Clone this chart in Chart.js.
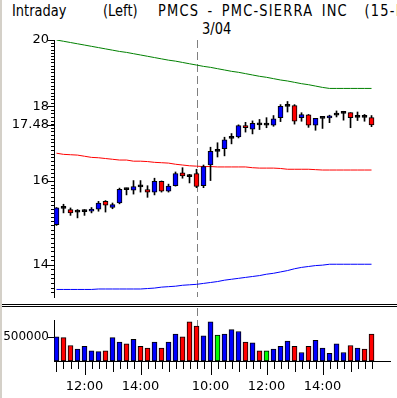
<!DOCTYPE html>
<html>
<head>
<meta charset="utf-8">
<script src="https://cdn.jsdelivr.net/npm/chart.js@4.4.1/dist/chart.umd.min.js"></script>
<style>
html, body { margin: 0; padding: 0; background: #fff; }
#wrap { position: relative; width: 397px; height: 398px; overflow: hidden; background: #fff; }
#wrap canvas { position: absolute; left: 0; display: block; }
#priceChart { top: 0; }
#volChart { top: 308px; }
.hdr { position: absolute; font-family: "DejaVu Sans", sans-serif; font-size: 13px; line-height: 15px;
       white-space: nowrap; color: #000; transform: scaleY(1.2); transform-origin: left top; }
.wide { letter-spacing: 1.2px; word-spacing: 3px; }
.sep { position: absolute; left: 2px; width: 395px; height: 1px; background: #000; }
#edgeL { position: absolute; left: 0; top: 0; width: 2px; height: 398px; background: #d4d0c8; }
</style>
</head>
<body>
<div id="wrap">
  <div id="edgeL"></div>
  <div class="hdr" style="left:12px;top:2px">Intraday</div>
  <div class="hdr" style="left:103px;top:2px">(Left)</div>
  <div class="hdr wide" style="left:158px;top:2px">PMCS - PMC-SIERRA INC&nbsp;&nbsp;(15-Min)</div>
  <div class="hdr" id="dateLbl" style="left:202px;top:20px"></div>
  <canvas id="priceChart" width="397" height="310"></canvas>
  <div class="sep" style="top:304px"></div>
  <div class="sep" style="top:306px"></div>
  <canvas id="volChart" width="397" height="90"></canvas>
</div>
<script>
// ===============================
// DATA
// ===============================
const sessionDate = '3/04';

const times = [
  '11:00','11:15','11:30','11:45','12:00','12:15','12:30','12:45','13:00','13:15',
  '13:30','13:45','14:00','14:15','14:30','14:45','15:00','15:15','15:30','15:45',
  '9:30','9:45','10:00','10:15','10:30','10:45','11:00','11:15','11:30','11:45',
  '12:00','12:15','12:30','12:45','13:00','13:15','13:30','13:45','14:00','14:15',
  '14:30','14:45','15:00','15:15','15:30','15:45'
];
const shownTimes = ['10:00', '12:00', '14:00'];

const opens = [
  14.92, 15.32, 15.28, 15.22, 15.23, 15.24, 15.29, 15.48, 15.33, 15.44,
  15.78, 15.76, 15.85, 15.77, 15.71, 15.98, 15.73, 15.87, 16.20, 16.11,
  16.18, 15.87, 16.40, 16.77, 16.83, 17.11, 17.15, 17.46, 17.36, 17.49,
  17.47, 17.47, 17.68, 18.00, 18.02, 17.68, 17.76, 17.47, 17.66, 17.67,
  17.75, 17.80, 17.82, 17.69, 17.71, 17.68
];
const highs = [
  15.33, 15.41, 15.32, 15.28, 15.28, 15.33, 15.48, 15.50, 15.44, 15.81,
  15.81, 16.00, 16.00, 15.87, 16.06, 15.99, 15.91, 16.22, 16.33, 16.16,
  16.29, 16.40, 16.87, 16.99, 17.14, 17.24, 17.48, 17.55, 17.59, 17.63,
  17.68, 17.74, 18.05, 18.14, 18.05, 17.82, 17.77, 17.66, 17.68, 17.75,
  17.87, 17.86, 17.82, 17.84, 17.77, 17.74
];
const lows = [
  14.90, 15.20, 15.14, 15.08, 15.14, 15.20, 15.24, 15.22, 15.30, 15.42,
  15.64, 15.66, 15.71, 15.58, 15.64, 15.71, 15.71, 15.86, 16.06, 15.94,
  15.82, 15.82, 16.00, 16.61, 16.64, 16.96, 17.12, 17.28, 17.23, 17.35,
  17.40, 17.44, 17.57, 17.84, 17.50, 17.58, 17.41, 17.33, 17.38, 17.54,
  17.70, 17.61, 17.40, 17.60, 17.58, 17.43
];
const closes = [
  15.32, 15.31, 15.20, 15.23, 15.24, 15.29, 15.44, 15.39, 15.40, 15.78,
  15.77, 15.85, 15.84, 15.71, 15.98, 15.73, 15.86, 16.18, 16.12, 16.10,
  15.85, 16.36, 16.76, 16.76, 17.07, 17.12, 17.46, 17.40, 17.52, 17.48,
  17.48, 17.65, 18.00, 18.01, 17.58, 17.77, 17.47, 17.66, 17.67, 17.73,
  17.76, 17.81, 17.68, 17.70, 17.69, 17.48
];
const volumes = [
  500000, 482000, 319000, 247000, 301000, 211000, 193000, 211000, 482000, 392000,
  355000, 446000, 301000, 265000, 392000, 265000, 392000, 554000, 500000, 807000,
  717000, 518000, 807000, 536000, 554000, 645000, 608000, 392000, 373000, 211000,
  211000, 247000, 301000, 410000, 301000, 175000, 301000, 428000, 265000, 157000,
  355000, 175000, 319000, 265000, 247000, 554000
];

// bands (upper / middle / lower)
const upperBand = [
  20.00, 19.96, 19.92, 19.88, 19.84, 19.80, 19.76, 19.72, 19.68, 19.64,
  19.61, 19.57, 19.53, 19.49, 19.45, 19.41, 19.37, 19.34, 19.30, 19.26,
  19.22, 19.18, 19.15, 19.11, 19.07, 19.03, 19.00, 18.96, 18.92, 18.88,
  18.85, 18.81, 18.77, 18.74, 18.70, 18.66, 18.63, 18.59, 18.55, 18.52,
  18.52, 18.52, 18.52, 18.52, 18.52, 18.52
];
const midBand = [
  16.71, 16.68, 16.67, 16.66, 16.63, 16.60, 16.59, 16.57, 16.55, 16.53,
  16.53, 16.50, 16.50, 16.49, 16.47, 16.46, 16.45, 16.42, 16.40, 16.38,
  16.37, 16.36, 16.36, 16.35, 16.35, 16.35, 16.35, 16.35, 16.33, 16.32,
  16.32, 16.32, 16.31, 16.29, 16.29, 16.29, 16.29, 16.28, 16.27, 16.27,
  16.27, 16.27, 16.27, 16.27, 16.27, 16.27
];
const lowerBand = [
  13.46, 13.46, 13.46, 13.46, 13.46, 13.46, 13.47, 13.47, 13.47, 13.47,
  13.47, 13.47, 13.47, 13.48, 13.49, 13.51, 13.52, 13.53, 13.55, 13.56,
  13.57, 13.59, 13.61, 13.63, 13.66, 13.68, 13.70, 13.72, 13.74, 13.76,
  13.79, 13.81, 13.84, 13.87, 13.91, 13.94, 13.96, 13.98, 13.99, 14.01,
  14.01, 14.01, 14.01, 14.01, 14.01, 14.01
];

const priceTicks = [14, 16, 18, 20];
const volumeTicks = [500000];

// ===============================
// HELPERS
// ===============================
const FONT = { family: 'DejaVu Sans', size: 12 };
const X_MIN = -0.357, X_MAX = 47.64;
const PRICE_MIN = 13.34, PRICE_MAX = 20;
const lastClose = closes[closes.length - 1];
const dayStart = times.findIndex((t, i) => i > 0 && parseInt(t) < parseInt(times[i - 1]));

document.getElementById('dateLbl').textContent = sessionDate;

function bodyColor(i) {
    const d = closes[i] - opens[i];
    if (Math.abs(d) < 0.025) return '#000000';
    return d > 0 ? '#0000ff' : '#ff0000';
}
function volColor(i) {
    if (i === 0 || closes[i] > closes[i - 1]) return '#0000ff';
    if (closes[i] < closes[i - 1]) return '#ff0000';
    return '#00ff00';
}
function near(a, b) { return Math.abs(a - b) < 1e-6; }

function drawSessionLine(chart, top) {
    const ctx = chart.ctx;
    const x = Math.round(chart.scales.x.getPixelForValue(dayStart)) + 0.5;
    ctx.save();
    ctx.strokeStyle = '#808080';
    ctx.lineWidth = 1;
    ctx.setLineDash([8, 4]);
    ctx.beginPath();
    ctx.moveTo(x, top);
    ctx.lineTo(x, chart.chartArea.bottom);
    ctx.stroke();
    ctx.restore();
}

function drawYMarks(chart, isLong) {
    const ctx = chart.ctx;
    const s = chart.scales.y;
    const left = chart.chartArea.left;
    ctx.save();
    ctx.strokeStyle = '#000';
    ctx.lineWidth = 1;
    ctx.beginPath();
    s.ticks.forEach(t => {
        const y = Math.round(s.getPixelForValue(t.value)) + 0.5;
        const len = isLong(t.value) ? 6 : 3;
        ctx.moveTo(left - len, y);
        ctx.lineTo(left, y);
    });
    ctx.stroke();
    ctx.restore();
}

// ===============================
// PRICE PANEL
// ===============================
const priceMarks = {
    id: 'priceMarks',
    beforeDatasetsDraw(chart) { drawSessionLine(chart, chart.chartArea.top); },
    afterDraw(chart) {
        drawYMarks(chart, v => priceTicks.some(p => near(p, v)) || near(v, lastClose));
    }
};

new Chart(document.getElementById('priceChart'), {
    data: {
        datasets: [
            {
                type: 'bar', order: 0,
                data: opens.map((o, i) => ({ x: i, y: [o, closes[i]] })),
                backgroundColor: opens.map((o, i) => bodyColor(i)),
                borderColor: '#000', borderWidth: 1, borderSkipped: false,
                barThickness: 5, minBarLength: 2, grouped: false
            },
            {
                type: 'bar', order: 1,
                data: lows.map((l, i) => ({ x: i, y: [l, highs[i]] })),
                backgroundColor: '#000', borderWidth: 0,
                barThickness: 1, grouped: false
            },
            { type: 'line', order: 2, data: upperBand.map((v, i) => ({ x: i, y: v })),
              borderColor: '#008000', borderWidth: 1, pointRadius: 0, tension: 0 },
            { type: 'line', order: 2, data: midBand.map((v, i) => ({ x: i, y: v })),
              borderColor: '#ff0000', borderWidth: 1, pointRadius: 0, tension: 0 },
            { type: 'line', order: 2, data: lowerBand.map((v, i) => ({ x: i, y: v })),
              borderColor: '#0000ff', borderWidth: 1, pointRadius: 0, tension: 0 }
        ]
    },
    options: {
        responsive: false,
        animation: false,
        devicePixelRatio: 1,
        layout: { padding: { top: 40, bottom: 13, left: 0, right: 7 } },
        plugins: { legend: { display: false }, tooltip: { enabled: false } },
        scales: {
            x: { type: 'linear', min: X_MIN, max: X_MAX, offset: false, display: false },
            y: {
                type: 'logarithmic',
                min: PRICE_MIN,
                max: PRICE_MAX,
                afterFit(s) { s.width = 54; },
                afterBuildTicks(s) {
                    const t = [];
                    for (let v = 134; v <= 200; v++) t.push({ value: v / 10 });
                    t.push({ value: lastClose });
                    s.ticks = t;
                },
                grid: { display: false, drawTicks: false },
                border: { display: true, color: '#000', width: 1 },
                ticks: {
                    autoSkip: false,
                    padding: 5,
                    color: '#000',
                    font: { family: 'DejaVu Sans', size: 13 },
                    callback(v) {
                        if (near(v, lastClose)) return lastClose.toFixed(2);
                        return priceTicks.some(p => near(p, v)) ? String(Math.round(v)) : '';
                    }
                }
            }
        }
    },
    plugins: [priceMarks]
});

// ===============================
// VOLUME PANEL
// ===============================
const volMarks = {
    id: 'volMarks',
    beforeDatasetsDraw(chart) { drawSessionLine(chart, 0); },
    afterDraw(chart) {
        drawYMarks(chart, () => true);
        const ctx = chart.ctx;
        const s = chart.scales.x;
        const base = chart.chartArea.bottom;
        ctx.save();
        ctx.strokeStyle = '#000';
        ctx.lineWidth = 1;
        ctx.beginPath();
        times.forEach((t, i) => {
            const x = Math.round(s.getPixelForValue(i)) + 0.5;
            let len = 8;
            if (shownTimes.includes(t)) len = 14;
            else if (t.endsWith(':00')) len = 11;
            ctx.moveTo(x, base);
            ctx.lineTo(x, base + len);
        });
        ctx.stroke();
        ctx.restore();
    }
};

new Chart(document.getElementById('volChart'), {
    type: 'bar',
    data: {
        datasets: [{
            data: volumes.map((v, i) => ({ x: i, y: v })),
            backgroundColor: volumes.map((v, i) => volColor(i)),
            borderColor: '#000', borderWidth: 1, borderSkipped: false,
            barThickness: 5
        }]
    },
    options: {
        responsive: false,
        animation: false,
        devicePixelRatio: 1,
        layout: { padding: { top: 6, bottom: 0, left: 0, right: 7 } },
        plugins: { legend: { display: false }, tooltip: { enabled: false } },
        scales: {
            x: {
                type: 'linear', min: X_MIN, max: X_MAX, offset: false,
                afterFit(s) { s.height = 37; },
                afterBuildTicks(s) { s.ticks = times.map((t, i) => ({ value: i })); },
                grid: { display: false, drawTicks: false, offset: false },
                border: { display: true, color: '#000', width: 1 },
                ticks: {
                    autoSkip: false, maxRotation: 0, padding: 18,
                    color: '#000', font: { family: 'DejaVu Sans', size: 13 },
                    callback(v) {
                        const t = times[Math.round(v)];
                        return shownTimes.includes(t) ? t : '';
                    }
                }
            },
            y: {
                min: 0, max: 840000,
                afterFit(s) { s.width = 54; },
                afterBuildTicks(s) { s.ticks = volumeTicks.map(v => ({ value: v })); },
                grid: { display: false, drawTicks: false },
                border: { display: true, color: '#000', width: 1 },
                ticks: { padding: 5, color: '#000', font: FONT, callback: v => String(v) }
            }
        }
    },
    plugins: [volMarks]
});
</script>
</body>
</html>
